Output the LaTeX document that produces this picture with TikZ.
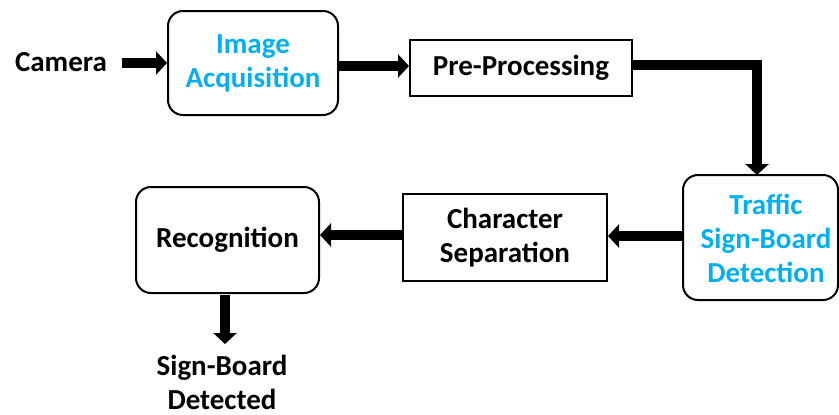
\documentclass[tikz,border=0pt]{standalone}
\usepackage{fontspec}
\setmainfont{Carlito}
\usetikzlibrary{arrows.meta}
\definecolor{hlblue}{HTML}{00B0F0}
\begin{document}
\begin{tikzpicture}[x=1pt,y=-1pt,
  every node/.style={font=\fontsize{29}{34}\selectfont\bfseries, align=center, inner sep=0pt},
  roundbox/.style={draw, line width=2pt, rounded corners=15pt},
  sqbox/.style={draw, line width=2pt},
  flow/.style={line width=10pt, -{Triangle[length=11pt,width=23pt]}},
]
\useasboundingbox (0,0) rectangle (839,415);

% blocks
\node[roundbox, minimum width=170pt, minimum height=104pt, text=hlblue] (acq) at (253,63) {Image\\Acquisition};
\node[sqbox, minimum width=222pt, minimum height=56pt] (pre) at (521,68) {Pre-Processing};
\node[roundbox, minimum width=155pt, minimum height=125pt] (det) at (760.5,237.5) {};
\node[text=hlblue] (detlbl) at (766,238) {Traffic\\Sign-Board\\Detection};
\node[sqbox, minimum width=204pt, minimum height=87pt] (sep) at (505,237.5) {Character\\Separation};
\node[roundbox, minimum width=183pt, minimum height=106pt] (rec) at (227.5,240) {Recognition};

% input and output labels
\node (cam) at (61,62) {Camera};
\node (out) at (222,382) {Sign-Board\\Detected};
\coordinate (camend) at (122,63);
\coordinate (outtop) at (225,295);
\coordinate (outtip) at (225,344);

% connectors
\draw[flow] (camend) -- (acq.west |- camend);
\draw[flow] (acq.east |- 0,66) -- (pre.west |- 0,66);
\draw[flow] (pre.east |- 0,65) -- (757,65) -- (757,175);
\draw[flow] (det.west |- 0,236) -- (sep.east |- 0,236);
\draw[flow] (sep.west |- 0,235) -- (rec.east |- 0,235);
\draw[flow] (outtop) -- (outtip);
\end{tikzpicture}
\end{document}
